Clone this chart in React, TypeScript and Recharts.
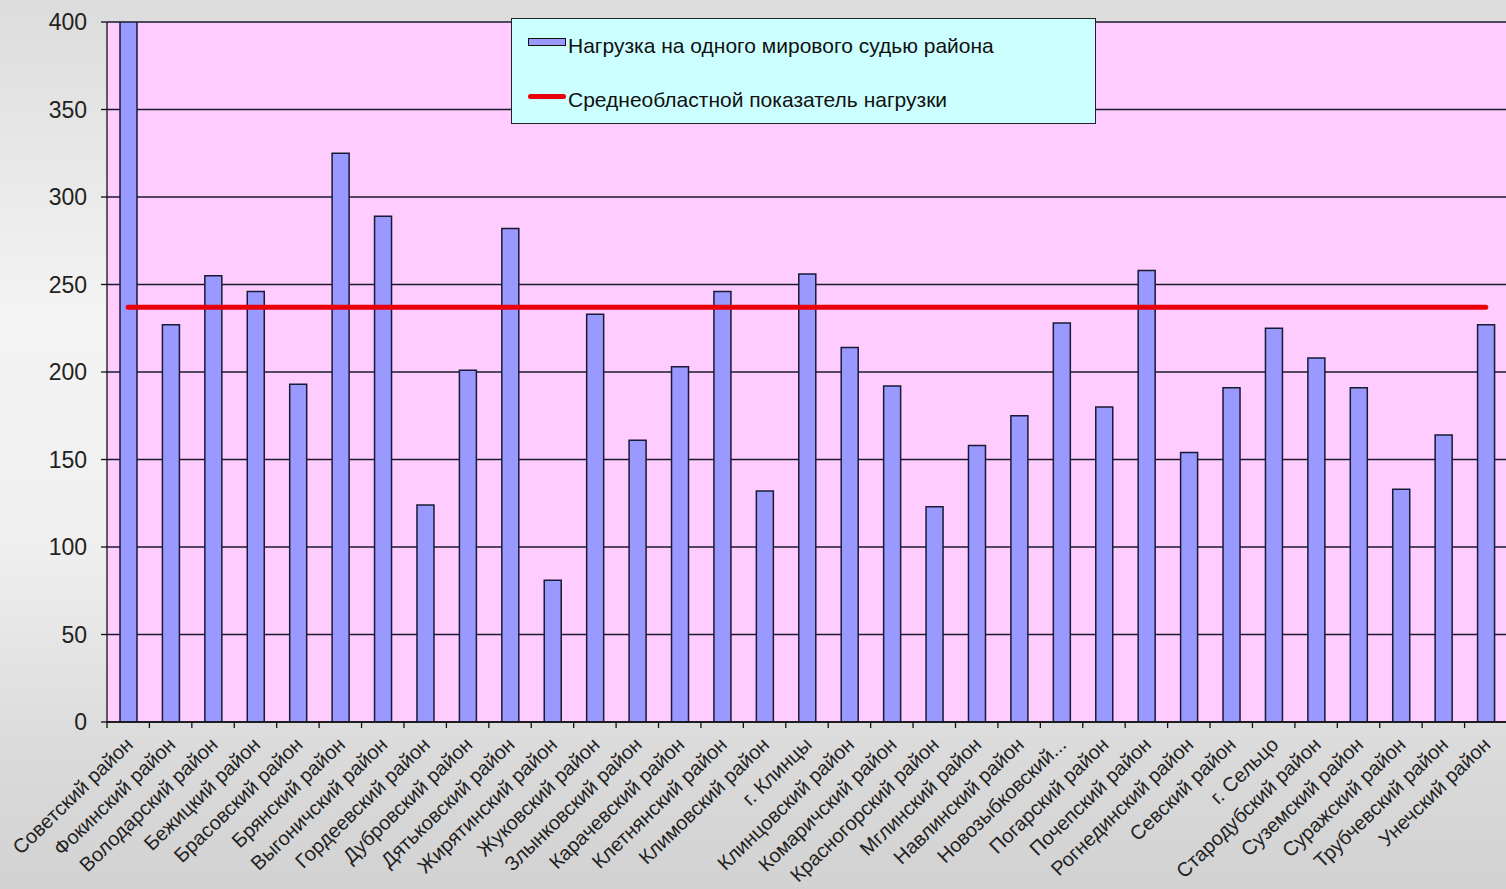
import React from 'react';
import { ComposedChart, Bar, Line, XAxis, YAxis, CartesianGrid } from 'recharts';

const districts: string[] = [
  'Советский район',
  'Фокинский район',
  'Володарский район',
  'Бежицкий район',
  'Брасовский район',
  'Брянский район',
  'Выгоничский район',
  'Гордеевский район',
  'Дубровский район',
  'Дятьковский район',
  'Жирятинский район',
  'Жуковский район',
  'Злынковский район',
  'Карачевский район',
  'Клетнянский район',
  'Климовский район',
  'г. Клинцы',
  'Клинцовский район',
  'Комаричский район',
  'Красногорский район',
  'Мглинский район',
  'Навлинский район',
  'Новозыбковский...',
  'Погарский район',
  'Почепский район',
  'Рогнединский район',
  'Севский район',
  'г. Сельцо',
  'Стародубский район',
  'Суземский район',
  'Суражский район',
  'Трубчевский район',
  'Унечский район',
];

const loadValues: number[] = [
  400, 227, 255, 246, 193, 325, 289, 124, 201, 282, 81, 233, 161, 203, 246, 132, 256,
  214, 192, 123, 158, 175, 228, 180, 258, 154, 191, 225, 208, 191, 133, 164, 227,
];

const regionalAverage = 237;

const yTicks: number[] = [0, 50, 100, 150, 200, 250, 300, 350, 400];

const legendBarLabel = 'Нагрузка на одного мирового судью района';
const legendLineLabel = 'Среднеобластной показатель нагрузки';

const data = districts.map((name, i) => ({ name, load: loadValues[i], avg: regionalAverage }));

const FONT = '"Liberation Sans", Arial, "DejaVu Sans", sans-serif';
const PLOT_LEFT = 107;
const CHART_W = 1508;
const PLOT_RIGHT = CHART_W - 1;
const BAND = (PLOT_RIGHT - PLOT_LEFT) / districts.length;

function XTick(props: any) {
  const { x, y, payload } = props;
  const half = BAND / 2;
  const ax = x + 6;
  const ay = y + 24;
  return (
    <g>
      <line x1={x - half} x2={x - half} y1={y} y2={y + 6} stroke="#111" strokeWidth={1.3} />
      <text
        x={ax}
        y={ay}
        transform={`rotate(-44 ${ax} ${ay})`}
        textAnchor="end"
        fontSize={20}
        fill="#222"
        fontFamily={FONT}
      >
        {payload.value}
      </text>
    </g>
  );
}

function LegendBox() {
  return (
    <div
      style={{
        position: 'absolute',
        left: 511,
        top: 18,
        width: 583,
        height: 104,
        background: '#ccffff',
        border: '1px solid #222',
        fontFamily: FONT,
        fontSize: 21,
        color: '#111',
      }}
    >
      <div style={{ position: 'absolute', left: 16, top: 19, width: 36, height: 6, background: '#9999ff', border: '1px solid #111' }} />
      <div style={{ position: 'absolute', left: 56, top: 14, lineHeight: '26px', whiteSpace: 'nowrap' }}>{legendBarLabel}</div>
      <div style={{ position: 'absolute', left: 16, top: 75, width: 38, height: 5, background: '#e8000b', borderRadius: 3 }} />
      <div style={{ position: 'absolute', left: 56, top: 68, lineHeight: '26px', whiteSpace: 'nowrap' }}>{legendLineLabel}</div>
    </div>
  );
}

export default function App() {
  return (
    <div
      style={{
        position: 'absolute',
        left: 0,
        top: 0,
        width: 1506,
        height: 889,
        overflow: 'hidden',
        background: 'linear-gradient(to bottom, #dcdcdc 0%, #f3f3f3 35%, #f0f0f0 60%, #dadada 85%, #d2d2d2 100%)',
      }}
    >
      <ComposedChart
        width={CHART_W}
        height={889}
        data={data}
        margin={{ top: 22, right: 1, left: 47, bottom: 7 }}
      >
        <CartesianGrid vertical={false} stroke="#1a1a2a" strokeWidth={1.3} fill="#ffccff" fillOpacity={1} />
        <XAxis
          dataKey="name"
          interval={0}
          height={160}
          tickSize={0}
          tickMargin={0}
          tickLine={false}
          axisLine={{ stroke: '#111', strokeWidth: 1.3 }}
          tick={<XTick />}
        />
        <YAxis
          domain={[0, 400]}
          ticks={yTicks}
          width={60}
          tickSize={6}
          tickMargin={14}
          axisLine={{ stroke: '#111', strokeWidth: 1.3 }}
          tickLine={{ stroke: '#111', strokeWidth: 1.3 }}
          tick={{ fontSize: 23, fill: '#222', fontFamily: FONT }}
          allowDataOverflow
        />
        <Bar dataKey="load" fill="#9999ff" stroke="#1a1a33" strokeWidth={1.5} barSize={17} isAnimationActive={false} />
        <Line
          dataKey="avg"
          type="linear"
          stroke="#e8000b"
          strokeWidth={5}
          strokeLinecap="round"
          dot={false}
          activeDot={false}
          isAnimationActive={false}
        />
      </ComposedChart>
      <LegendBox />
    </div>
  );
}
